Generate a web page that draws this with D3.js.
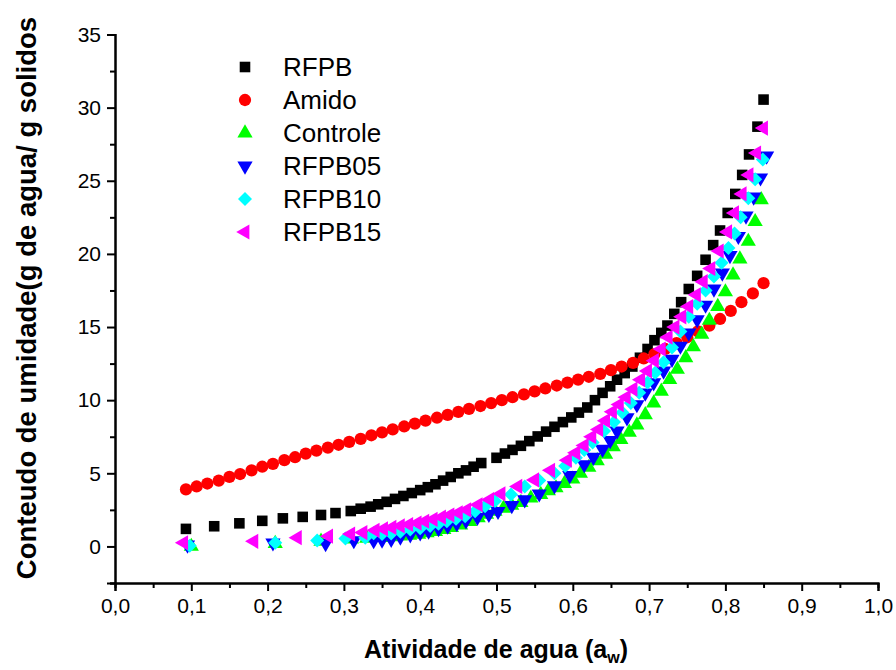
<!DOCTYPE html>
<html>
<head>
<meta charset="utf-8">
<script src="https://cdn.jsdelivr.net/npm/d3@7"></script>
<style>
  body { margin: 0; background: #fff; }
  svg { display: block; }
</style>
</head>
<body>
<div id="chart"></div>
<script>
// series names, in drawing order
const seriesNames = ["RFPB", "Amido", "Controle", "RFPB05", "RFPB10", "RFPB15"];
const seriesColors = ["#000000", "#ff0000", "#00ff00", "#0000ff", "#00ffff", "#ff00ff"];

// [aw, moisture]
const rfpb = [
  [0.093, 1.2], [0.130, 1.38], [0.163, 1.58], [0.193, 1.75], [0.220, 1.92], [0.246, 2.02],
  [0.270, 2.15], [0.289, 2.28], [0.309, 2.42], [0.322, 2.58], [0.335, 2.72], [0.345, 2.88],
  [0.356, 3.05], [0.367, 3.25], [0.378, 3.45], [0.389, 3.65], [0.400, 3.85], [0.410, 4.05],
  [0.420, 4.25], [0.430, 4.5], [0.440, 4.75], [0.450, 5.0], [0.460, 5.2], [0.470, 5.45],
  [0.480, 5.7], [0.500, 6.06], [0.511, 6.35], [0.521, 6.6], [0.532, 6.88], [0.543, 7.2],
  [0.554, 7.52], [0.565, 7.85], [0.576, 8.18], [0.587, 8.5], [0.598, 8.82], [0.608, 9.15],
  [0.619, 9.5], [0.629, 10.0], [0.639, 10.5], [0.649, 10.95], [0.658, 11.4], [0.668, 11.85],
  [0.678, 12.3], [0.688, 12.9], [0.698, 13.5], [0.707, 14.1], [0.716, 14.6], [0.724, 15.1],
  [0.733, 15.9], [0.742, 16.7], [0.752, 17.6], [0.763, 18.5], [0.774, 19.6], [0.784, 20.6],
  [0.793, 21.6], [0.803, 22.8], [0.813, 24.1], [0.822, 25.4], [0.831, 26.8], [0.842, 28.7],
  [0.850, 30.55]
];

const amido = [
  [0.093, 3.9], [0.107, 4.1], [0.121, 4.3], [0.136, 4.5], [0.150, 4.75], [0.164, 4.95],
  [0.179, 5.2], [0.193, 5.45], [0.207, 5.65], [0.222, 5.9], [0.236, 6.1], [0.250, 6.35],
  [0.264, 6.55], [0.279, 6.75], [0.293, 6.95], [0.307, 7.15], [0.322, 7.35], [0.336, 7.6],
  [0.350, 7.8], [0.364, 8.0], [0.379, 8.2], [0.393, 8.4], [0.407, 8.6], [0.422, 8.8],
  [0.436, 9.0], [0.450, 9.2], [0.464, 9.4], [0.479, 9.6], [0.493, 9.8], [0.507, 10.0],
  [0.521, 10.2], [0.536, 10.4], [0.550, 10.6], [0.564, 10.8], [0.579, 11.0], [0.593, 11.2],
  [0.607, 11.4], [0.621, 11.6], [0.636, 11.8], [0.650, 12.05], [0.664, 12.3], [0.679, 12.55],
  [0.693, 12.85], [0.707, 13.15], [0.721, 13.5], [0.736, 13.9], [0.750, 14.3], [0.764, 14.7],
  [0.779, 15.1], [0.793, 15.55], [0.807, 16.1], [0.821, 16.7], [0.836, 17.3], [0.850, 18.0]
];

const controle = [
  [0.100, 0.0], [0.210, 0.2], [0.270, 0.35], [0.310, 0.5], [0.330, 0.55], [0.350, 0.6],
  [0.362, 0.65], [0.374, 0.7], [0.386, 0.75], [0.398, 0.82], [0.409, 0.92], [0.420, 1.02],
  [0.431, 1.15], [0.441, 1.28], [0.453, 1.45], [0.465, 1.7], [0.476, 1.96], [0.487, 2.2],
  [0.498, 2.4], [0.509, 2.6], [0.520, 2.8], [0.532, 3.0], [0.545, 3.3], [0.558, 3.55],
  [0.568, 3.8], [0.578, 4.0], [0.589, 4.3], [0.600, 4.6], [0.610, 5.0], [0.621, 5.4],
  [0.632, 5.85], [0.643, 6.3], [0.653, 6.8], [0.663, 7.3], [0.674, 7.8], [0.684, 8.3],
  [0.695, 9.0], [0.706, 9.8], [0.716, 10.6], [0.727, 11.4], [0.737, 12.1], [0.748, 12.9],
  [0.758, 13.65], [0.769, 14.5], [0.779, 15.45], [0.790, 16.4], [0.800, 17.4], [0.810, 18.55],
  [0.819, 19.65], [0.830, 20.85], [0.839, 22.2], [0.847, 23.7]
];

const rfpb05 = [
  [0.095, 0.1], [0.207, 0.25], [0.276, 0.2], [0.313, 0.4], [0.339, 0.4], [0.350, 0.45],
  [0.362, 0.5], [0.374, 0.65], [0.387, 0.8], [0.400, 0.93], [0.411, 1.05], [0.424, 1.23],
  [0.436, 1.4], [0.448, 1.57], [0.460, 1.75], [0.475, 2.0], [0.490, 2.2], [0.502, 2.4],
  [0.520, 2.8], [0.537, 3.2], [0.556, 3.6], [0.576, 4.15], [0.596, 4.85], [0.615, 5.6],
  [0.627, 6.1], [0.639, 6.65], [0.649, 7.25], [0.658, 7.9], [0.671, 8.8], [0.684, 9.7],
  [0.695, 10.5], [0.706, 11.2], [0.719, 12.0], [0.730, 12.8], [0.741, 13.7], [0.752, 14.6],
  [0.763, 15.5], [0.774, 16.5], [0.785, 17.6], [0.796, 18.7], [0.806, 19.9], [0.817, 21.2],
  [0.827, 22.6], [0.837, 23.9], [0.846, 25.2], [0.854, 26.7]
];

const rfpb10 = [
  [0.098, 0.05], [0.210, 0.25], [0.265, 0.4], [0.302, 0.55], [0.328, 0.6], [0.339, 0.9],
  [0.350, 0.85], [0.362, 0.88], [0.374, 1.0], [0.387, 1.15], [0.400, 1.25], [0.413, 1.4],
  [0.424, 1.55], [0.435, 1.73], [0.447, 1.9], [0.459, 2.07], [0.472, 2.4], [0.485, 2.75],
  [0.498, 3.1], [0.519, 3.55], [0.537, 4.1], [0.556, 4.5], [0.576, 5.0], [0.590, 5.5],
  [0.604, 6.06], [0.615, 6.6], [0.626, 7.1], [0.641, 7.9], [0.654, 8.5], [0.665, 9.15],
  [0.676, 9.8], [0.687, 10.5], [0.698, 11.2], [0.708, 11.87], [0.719, 12.6], [0.730, 13.6],
  [0.741, 14.7], [0.752, 15.7], [0.763, 16.6], [0.774, 17.5], [0.785, 18.45], [0.795, 19.4],
  [0.804, 20.4], [0.812, 21.4], [0.820, 22.5], [0.830, 23.8], [0.839, 25.1], [0.849, 26.45]
];

const rfpb15 = [
  [0.090, 0.25], [0.182, 0.35], [0.239, 0.6], [0.280, 0.7], [0.309, 0.85], [0.325, 0.95],
  [0.341, 1.1], [0.352, 1.2], [0.363, 1.3], [0.374, 1.4], [0.385, 1.5], [0.396, 1.6],
  [0.406, 1.72], [0.417, 1.85], [0.428, 2.0], [0.439, 2.15], [0.450, 2.3], [0.461, 2.5],
  [0.476, 2.85], [0.491, 3.2], [0.506, 3.6], [0.528, 4.1], [0.550, 4.55], [0.571, 5.2],
  [0.593, 5.9], [0.604, 6.4], [0.615, 6.9], [0.625, 7.5], [0.634, 8.0], [0.643, 8.6],
  [0.652, 9.2], [0.661, 9.7], [0.670, 10.2], [0.679, 10.75], [0.689, 11.4], [0.698, 12.0],
  [0.707, 12.7], [0.716, 13.5], [0.725, 14.3], [0.734, 15.0], [0.743, 15.7], [0.752, 16.4],
  [0.762, 17.2], [0.771, 18.1], [0.781, 19.0], [0.792, 20.2], [0.803, 21.5], [0.812, 22.8],
  [0.822, 24.1], [0.831, 25.4], [0.841, 26.9], [0.850, 28.6]
];

const allSeries = [rfpb, amido, controle, rfpb05, rfpb10, rfpb15];

const xTickValues = d3.range(0, 1.001, 0.1);
const yTickValues = d3.range(0, 36, 5);

const width = 896, height = 670;
const plot = { left: 115, right: 878, top: 34.5, bottom: 583 };

const svg = d3.select("#chart").append("svg")
    .attr("width", width)
    .attr("height", height);

const x = d3.scaleLinear().domain([0, 1]).range([plot.left, plot.right]);
const y = d3.scaleLinear().domain([-2.5, 35]).range([plot.bottom, plot.top]);

// marker shapes: square, circle, up, down, diamond, left
function markerPath(i) {
    const shapes = [
        d3.symbol(d3.symbolSquare, 112),
        d3.symbol(d3.symbolCircle, 118),
        d3.symbol(d3.symbolTriangle, 100),
        d3.symbol(d3.symbolTriangle, 100),
        d3.symbol(d3.symbolSquare, 98),
        d3.symbol(d3.symbolTriangle, 100)
    ];
    return shapes[i]();
}
const markerRotate = [0, 0, 0, 180, 45, -90];

// axes
const fmt = d => d3.format(".1f")(d).replace(".", ",");

const xAxis = d3.axisBottom(x).tickValues(xTickValues).tickFormat(fmt).tickSize(8).tickPadding(7);
const xMinor = d3.axisBottom(x).tickValues(d3.range(0.05, 1, 0.1)).tickFormat("").tickSize(5);
const yAxis = d3.axisLeft(y).tickValues(yTickValues).tickSize(8).tickPadding(6);
const yMinor = d3.axisLeft(y).tickValues(d3.range(-2.5, 35, 5)).tickFormat("").tickSize(5);

function styleAxis(g) {
    g.select(".domain").attr("stroke", "#000").attr("stroke-width", 2);
    g.selectAll(".tick line").attr("stroke", "#000").attr("stroke-width", 2);
    g.selectAll(".tick text")
        .attr("fill", "#000")
        .style("font-family", "Arial, 'Liberation Sans', sans-serif")
        .style("font-size", "21px");
}

svg.append("g").attr("transform", `translate(0,${plot.bottom})`).call(xMinor).call(styleAxis);
svg.append("g").attr("transform", `translate(0,${plot.bottom})`).call(xAxis).call(styleAxis);
svg.append("g").attr("transform", `translate(${plot.left},0)`).call(yMinor).call(styleAxis);
svg.append("g").attr("transform", `translate(${plot.left},0)`).call(yAxis).call(styleAxis);

// the data markers
allSeries.forEach((data, i) => {
    svg.append("g")
        .selectAll("path")
        .data(data)
        .enter().append("path")
        .attr("d", markerPath(i))
        .attr("fill", seriesColors[i])
        .attr("transform", d => `translate(${x(d[0])},${y(d[1])}) rotate(${markerRotate[i]})`);
});

// legend
const legend = svg.append("g").attr("transform", "translate(245,67)");
seriesNames.forEach((name, i) => {
    const row = legend.append("g").attr("transform", `translate(0,${i * 33})`);
    row.append("path")
        .attr("d", markerPath(i))
        .attr("fill", seriesColors[i])
        .attr("transform", `rotate(${markerRotate[i]})`);
    row.append("text")
        .attr("x", 38)
        .attr("dy", "0.36em")
        .style("font-family", "Arial, 'Liberation Sans', sans-serif")
        .style("font-size", "26px")
        .text(name);
});

// axis titles
const xTitle = svg.append("text")
    .attr("x", 496)
    .attr("y", 658)
    .attr("text-anchor", "middle")
    .style("font-family", "Arial, 'Liberation Sans', sans-serif")
    .style("font-size", "25px")
    .style("font-weight", "bold");
xTitle.append("tspan").text("Atividade de agua (a");
xTitle.append("tspan").attr("dy", 5).style("font-size", "16px").text("w");
xTitle.append("tspan").attr("dy", -5).text(")");

svg.append("text")
    .attr("transform", "translate(36,298) rotate(-90)")
    .attr("text-anchor", "middle")
    .style("font-family", "Arial, 'Liberation Sans', sans-serif")
    .style("font-size", "27.5px")
    .style("font-weight", "bold")
    .text("Conteudo de umidade(g de agua/ g solidos");
</script>
</body>
</html>
